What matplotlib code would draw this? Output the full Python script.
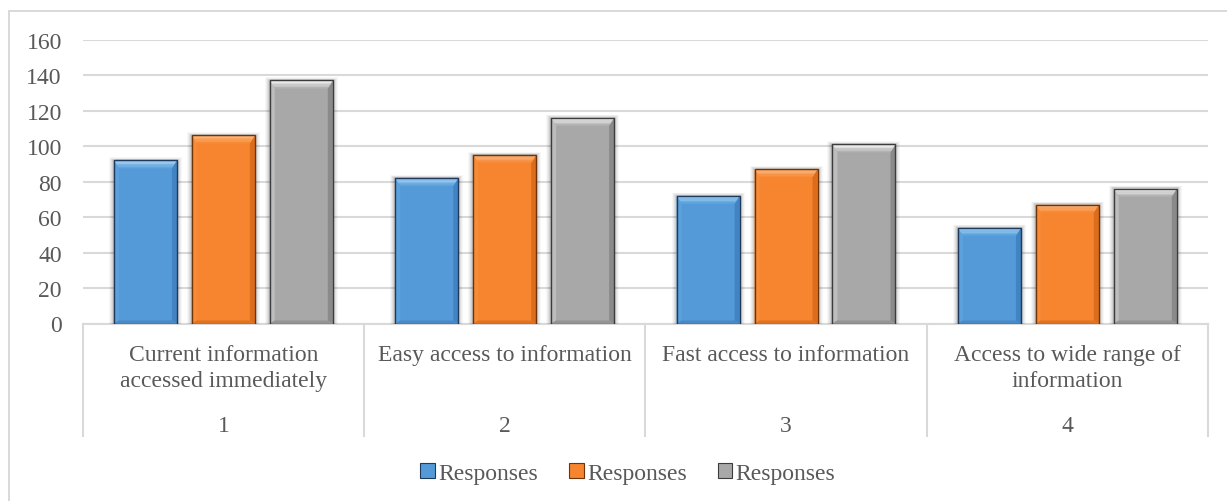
import matplotlib
matplotlib.use("Agg")
import matplotlib.pyplot as plt
from matplotlib.patches import Polygon, Rectangle, Patch
from matplotlib.lines import Line2D
from matplotlib.colors import to_rgb

# ---- data -------------------------------------------------------------
categories = [
    "Current information\naccessed immediately",
    "Easy access to information",
    "Fast access to information",
    "Access to wide range of\ninformation",
]
category_ids = ["1", "2", "3", "4"]
series_names = ["Responses", "Responses", "Responses"]
responses_a = [92, 82, 72, 54]
responses_b = [106, 95, 87, 67]
responses_c = [137, 116, 101, 76]
y_ticks = [0, 20, 40, 60, 80, 100, 120, 140, 160]

series_values = [responses_a, responses_b, responses_c]

# bevelled bar colour sets: face, top bevel, side bevels, bottom bevel, outline
palettes = [
    dict(face="#559ad8", top="#a4d4f5", left="#5ba1dd", right="#4283c4",
         bottom="#4a88c6", edge="#1f3a5a"),
    dict(face="#f7842e", top="#fcb980", left="#f88b38", right="#dc6d1c",
         bottom="#e0731f", edge="#6e3408"),
    dict(face="#a8a8a8", top="#f2f2f2", left="#bdbdbd", right="#8a8a8a",
         bottom="#949494", edge="#3c3c3c"),
]

TEXT = "#595959"
GRID = "#d9d9d9"
FS = 17

W, H, DPI = 1227, 502, 100
plt.rcParams["font.family"] = ["Liberation Serif", "DejaVu Serif"]

fig = plt.figure(figsize=(W / DPI, H / DPI), dpi=DPI)
fig.patch.set_facecolor("white")

ax_left, ax_right, ax_top, ax_base = 82.7, 1208.0, 40.7, 324.5
ax = fig.add_axes([ax_left / W, (H - ax_base) / H,
                   (ax_right - ax_left) / W, (ax_base - ax_top) / H])
ax.set_xlim(-0.5, len(categories) - 0.5)
ax.set_ylim(0, 160)
for s in ax.spines.values():
    s.set_visible(False)
ax.set_yticks(y_ticks)
ax.set_xticks([])
ax.yaxis.grid(True, color=GRID, lw=1.5)
ax.set_axisbelow(True)
ax.tick_params(axis="y", length=0, pad=15, labelsize=FS, labelcolor=TEXT)

# pixel scale of the data coordinates
p0 = ax.transData.transform((0, 0))
p1 = ax.transData.transform((1, 1))
sx, sy = p1[0] - p0[0], p1[1] - p0[1]


def mix(c1, c2, t):
    a, b = to_rgb(c1), to_rgb(c2)
    return tuple(a[i] * (1 - t) + b[i] * t for i in range(3))


def bevel_bar(xc, w, h, pal):
    x0, x1 = xc - w / 2, xc + w / 2
    bx = 5.0 / sx
    bt = min(8.0 / sy, h / 3)
    bb = 3.0 / sy
    # soft drop shadow
    for k, a in [(5, 0.03), (4, 0.04), (3, 0.05), (2, 0.07), (1, 0.09)]:
        ax.add_patch(Rectangle((x0 - k / sx, 0), w + 2 * k / sx, h + 0.6 * k / sy,
                               facecolor="#000000", alpha=a, lw=0, zorder=2))
    ax.add_patch(Rectangle((x0, 0), w, h, facecolor=pal["face"], lw=0, zorder=3))
    ax.add_patch(Polygon([(x0, h), (x0 + bx, h - bt), (x0 + bx, bb), (x0, 0)],
                         closed=True, facecolor=pal["left"], lw=0, zorder=4))
    ax.add_patch(Polygon([(x1, h), (x1 - bx, h - bt), (x1 - bx, bb), (x1, 0)],
                         closed=True, facecolor=pal["right"], lw=0, zorder=4))
    ax.add_patch(Polygon([(x0, 0), (x1, 0), (x1 - bx, bb), (x0 + bx, bb)],
                         closed=True, facecolor=pal["bottom"], lw=0, zorder=4))
    # top bevel drawn as graded bands, light at the rim fading into the face
    n = 6
    for j in range(n):
        f0, f1 = j / n, (j + 1) / n
        col = mix(pal["top"], pal["face"], (j / (n - 1)) ** 1.3 * 0.85)
        ax.add_patch(Polygon([(x0 + bx * f0, h - bt * f0), (x1 - bx * f0, h - bt * f0),
                              (x1 - bx * f1, h - bt * f1), (x0 + bx * f1, h - bt * f1)],
                             closed=True, facecolor=col, lw=0, zorder=4))
    ax.add_patch(Rectangle((x0, 0), w, h, fill=False, edgecolor=pal["edge"],
                           lw=1.0, zorder=5))


bar_w = 0.224
pitch = 0.277
for si, vals in enumerate(series_values):
    off = (si - 1) * pitch
    for ci, v in enumerate(vals):
        bevel_bar(ci + off, bar_w, v, palettes[si])

# category axis box with two label rows
xt = ax.get_xaxis_transform()
box_bottom = -(436.7 - ax_base) / (ax_base - ax_top)
ax.add_line(Line2D([-0.5, len(categories) - 0.5], [0, 0], transform=xt,
                   color=GRID, lw=1.5, clip_on=False, zorder=1))
for i in range(len(categories) + 1):
    ax.add_line(Line2D([i - 0.5, i - 0.5], [0, box_bottom], transform=xt,
                       color=GRID, lw=1.5, clip_on=False, zorder=1))

label_top = -(345.5 - ax_base) / (ax_base - ax_top)
id_y = -(426.5 - ax_base) / (ax_base - ax_top)
for i, (lab, cid) in enumerate(zip(categories, category_ids)):
    ax.text(i, label_top, lab, transform=xt, ha="center", va="top",
            fontsize=FS, color=TEXT, linespacing=1.27)
    ax.text(i, id_y, cid, transform=xt, ha="center", va="center",
            fontsize=FS, color=TEXT)

# chart frame
fig.add_artist(Line2D([9 / W, 1.0], [1 - 12 / H, 1 - 12 / H],
                      transform=fig.transFigure, color=GRID, lw=1.4))
fig.add_artist(Line2D([9 / W, 9 / W], [0.0, 1 - 12 / H],
                      transform=fig.transFigure, color=GRID, lw=1.4))

handles = [Patch(facecolor=p["face"], edgecolor=p["edge"], lw=0.8) for p in palettes]
fig.legend(handles=handles, labels=series_names, loc="center",
           bbox_to_anchor=(628 / W, 1 - 474.5 / H), ncol=3, frameon=False,
           fontsize=FS, labelcolor=TEXT, handlelength=0.62, handleheight=0.62,
           handletextpad=0.15, columnspacing=1.3, borderpad=0)

fig.savefig("out.png", dpi=DPI, facecolor="white")
